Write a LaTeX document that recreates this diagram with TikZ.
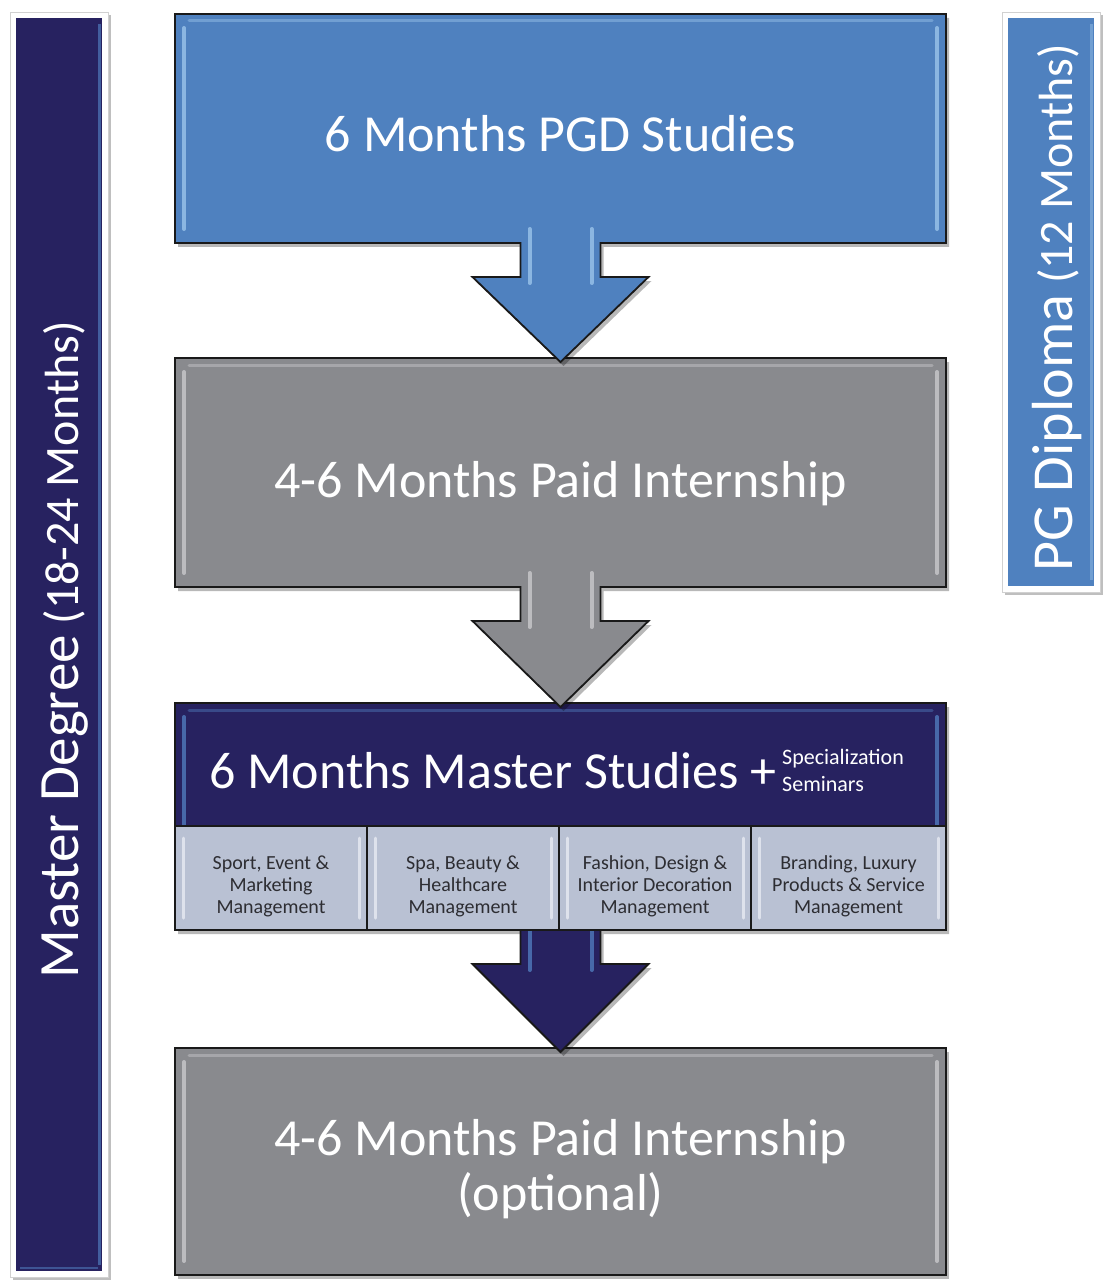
\documentclass[tikz,border=0pt]{standalone}
\usepackage{fontspec}
\setmainfont{Carlito}
\usetikzlibrary{calc,backgrounds,shadows}
\definecolor{pgdblue}{RGB}{79,129,191}
\definecolor{pgdlight}{RGB}{165,205,240}
\definecolor{navyc}{RGB}{39,34,96}
\definecolor{navylight}{RGB}{85,135,200}
\definecolor{boxgray}{RGB}{137,138,142}
\definecolor{graylight}{RGB}{210,210,213}
\definecolor{subgray}{RGB}{185,193,211}
\definecolor{sublight}{RGB}{238,241,247}
\definecolor{subtext}{RGB}{45,45,50}
\definecolor{outlinec}{RGB}{25,25,25}
\tikzset{
  boxshape/.style={inner sep=0pt, outer sep=0pt},
  flowpath/.style={draw=outlinec, line width=1.8pt, line join=miter,
    drop shadow={shadow xshift=3pt, shadow yshift=-4pt, opacity=.28, fill=black}},
  framepath/.style={fill=white, draw=black!18, line width=0.8pt,
    drop shadow={shadow xshift=3pt, shadow yshift=-3pt, opacity=.25, fill=black}},
  bigtext/.style={text=white, font=\fontsize{52}{55}\selectfont, align=center, inner sep=0pt},
  spectext/.style={text=white, font=\fontsize{22}{27}\selectfont, align=left, inner sep=0pt},
  sidetext/.style={text=white, font=\fontsize{48}{50}\selectfont, inner sep=0pt, rotate=90},
  subbox/.style={draw=outlinec, line width=1.6pt, fill=subgray, minimum height=104pt, inner sep=0pt, outer sep=0pt},
  subtextst/.style={text=subtext, font=\fontsize{20}{22}\selectfont, align=center, inner sep=0pt},
  hl/.style={line width=4pt, line cap=round, opacity=.7},
}
\newcommand\bevelhl[2]{%
  \draw[hl,#2] ($(#1.north west)+(9,14)$) -- ($(#1.south west)+(9,-14)$);
  \draw[hl,#2] ($(#1.north east)+(-9,14)$) -- ($(#1.south east)+(-9,-14)$);
  \draw[hl,#2,line width=3pt,opacity=.4] ($(#1.north west)+(14,7)$) -- ($(#1.north east)+(-14,7)$);
}
\newcommand\flowarrow[4]{%
  \path[flowpath, fill=#3] (#1.north west) -- (#1.north east) -- (#1.south east)
    -- ($(#1.south)+(40,0)$) -- ($(#1.south)+(40,34)$) -- ($(#1.south)+(88,34)$)
    -- ($(#2.north)+(0,4)$)
    -- ($(#1.south)+(-88,34)$) -- ($(#1.south)+(-40,34)$) -- ($(#1.south)+(-40,0)$)
    -- (#1.south west) -- cycle;
  \bevelhl{#1}{#4}
  \draw[hl,#4] ($(#1.south)+(-31,-14)$) -- ($(#1.south)+(-31,40)$);
  \draw[hl,#4] ($(#1.south)+(31,-14)$) -- ($(#1.south)+(31,40)$);
}
\begin{document}
\begin{tikzpicture}[x=1pt,y=-1pt]
\useasboundingbox (0,0) rectangle (1105,1281);
% side bars
\node[boxshape, minimum width=98pt, minimum height=1265pt] (lframe) at (59,644.5) {};
\node[boxshape, minimum width=86pt, minimum height=1253pt] (lbar) at (59,644.5) {};
\node[boxshape, minimum width=98pt, minimum height=580pt] (rframe) at (1051,302) {};
\node[boxshape, minimum width=86pt, minimum height=568pt] (rbar) at (1051,302) {};
% main boxes
\node[boxshape, minimum width=771pt, minimum height=229pt] (b1) at (560.5,128.5) {};
\node[boxshape, minimum width=771pt, minimum height=229pt] (b2) at (560.5,472.5) {};
\node[boxshape, minimum width=771pt, minimum height=227pt] (b3) at (560.5,816.5) {};
\node[boxshape, minimum width=771pt, minimum height=227pt] (b4) at (560.5,1161.5) {};
% sub boxes
\node[subbox, minimum width=192pt] (s1) at (271,878) {};
\node[subbox, minimum width=192pt] (s2) at (463,878) {};
\node[subbox, minimum width=192pt] (s3) at (655,878) {};
\node[subbox, minimum width=195pt] (s4) at (848.5,878) {};
\foreach \s in {s1,s2,s3,s4}{
  \draw[hl, sublight, line width=3pt] ($(\s.north west)+(8,12)$) -- ($(\s.south west)+(8,-12)$);
  \draw[hl, sublight, line width=3pt] ($(\s.north east)+(-8,12)$) -- ($(\s.south east)+(-8,-12)$);
}
% texts
\node[sidetext, anchor=base] (ltext) at (78,650) {{\fontsize{57}{60}\selectfont Master Degree} (18-24 Months)};
\node[sidetext, anchor=base] (rtext) at (1072,308) {{\fontsize{58}{60}\selectfont PG Diploma} (12 Months)};
\node[bigtext, anchor=base] (t1) at (560.5,152) {6 Months PGD Studies};
\node[bigtext, anchor=base] (t2) at (560.5,497) {4-6 Months Paid Internship};
\node[bigtext, anchor=base west] (t3) at (209,788) {6 Months Master Studies +};
\node[spectext, anchor=north west] (t3b) at (782,749) {Specialization\\Seminars};
\node[bigtext] (t4) at (560.5,1169) {4-6 Months Paid Internship\\(optional)};
\node[subtextst] (u1) at ($(s1.center)+(0,8)$) {Sport, Event \&\\Marketing\\Management};
\node[subtextst] (u2) at ($(s2.center)+(0,8)$) {Spa, Beauty \&\\Healthcare\\Management};
\node[subtextst] (u3) at ($(s3.center)+(0,8)$) {Fashion, Design \&\\Interior Decoration\\Management};
\node[subtextst] (u4) at ($(s4.center)+(0,8)$) {Branding, Luxury\\Products \& Service\\Management};
\begin{pgfonlayer}{background}
  \path[framepath] (lframe.north west) rectangle (lframe.south east);
  \fill[navyc] (lbar.north west) rectangle (lbar.south east);
  \draw[line width=3pt, navylight, opacity=.6] ($(lbar.north east)+(-3,6)$) -- ($(lbar.south east)+(-3,-6)$);
  \draw[line width=2pt, navylight, opacity=.5] ($(lbar.south west)+(4,-3)$) -- ($(lbar.south east)+(-4,-3)$);
  \path[framepath] (rframe.north west) rectangle (rframe.south east);
  \fill[pgdblue] (rbar.north west) rectangle (rbar.south east);
  \draw[line width=3pt, pgdlight, opacity=.4] ($(rbar.north east)+(-3,6)$) -- ($(rbar.south east)+(-3,-6)$);
  % flow, bottom to top
  \path[flowpath, fill=boxgray] (b4.north west) rectangle (b4.south east);
  \bevelhl{b4}{graylight}
  \flowarrow{b3}{b4}{navyc}{navylight}
  \flowarrow{b2}{b3}{boxgray}{graylight}
  \flowarrow{b1}{b2}{pgdblue}{pgdlight}
\end{pgfonlayer}
\end{tikzpicture}
\end{document}
